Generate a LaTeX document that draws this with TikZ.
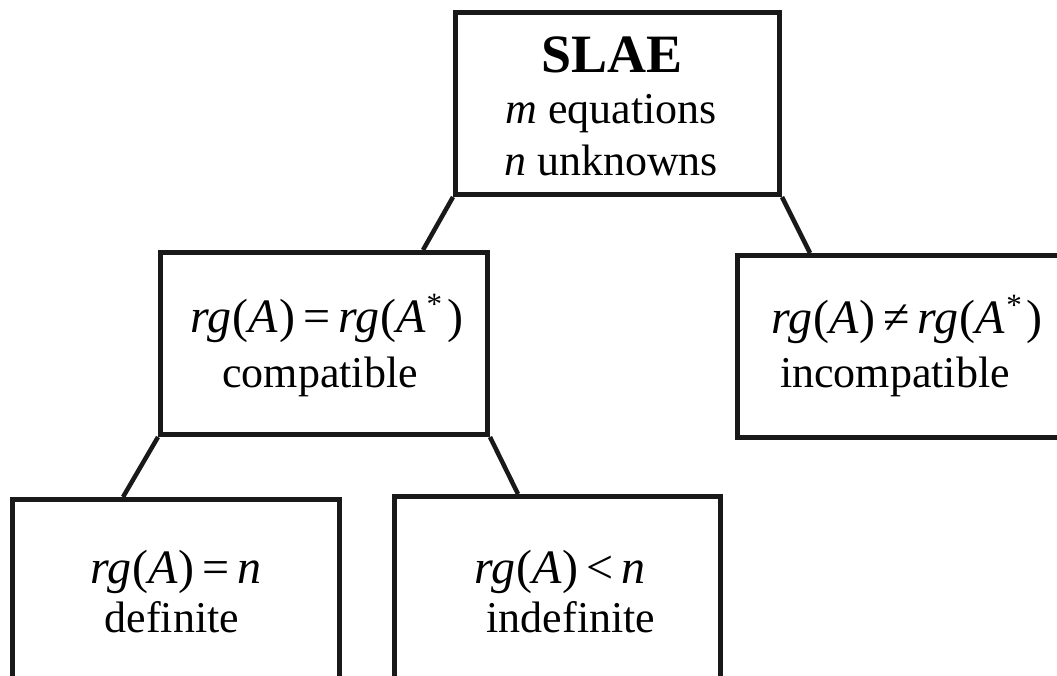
\documentclass[tikz,border=0pt]{standalone}
\usepackage{fontspec}
\setmainfont{Liberation Serif}
\tikzset{
  x=1pt, y=-1pt,
  box/.style={draw=black!90, line width=5pt, minimum width=327pt, minimum height=182pt, anchor=north west, inner sep=0pt},
  conn/.style={draw=black!90, line width=4.5pt},
  txt/.style={anchor=base, inner sep=0pt, font=\fontsize{44}{50}\selectfont},
  mth/.style={anchor=base, inner sep=0pt, font=\fontsize{48}{52}\selectfont},
  ttl/.style={anchor=base, inner sep=0pt, font=\fontsize{54}{60}\selectfont\bfseries}
}
\newcommand{\rgA}{\textit{rg}\kern1pt(\textit{A}\kern1pt)}
\newcommand{\rgAs}{\textit{rg}\kern1pt(\textit{A}\kern1pt\raisebox{18pt}{\fontsize{31}{31}\selectfont *}\kern5pt)}
\newcommand{\rel}[1]{\kern8pt#1\kern8pt}
\begin{document}
\begin{tikzpicture}
\useasboundingbox (0,0) rectangle (1057,675);
\clip (0,0) rectangle (1057,675);
\fill[white] (0,0) rectangle (1057,675);
% boxes
\node[box, minimum width=324pt] (slae) at (453,10) {};
\node[box] (comp) at (158,250) {};
\node[box] (incomp) at (735,253) {};
\node[box] (def) at (10,497) {};
\node[box, minimum width=326pt] (indef) at (392,494) {};
% connectors
\draw[conn] (slae.south west) -- ([xshift=-67pt]comp.north east);
\draw[conn] (slae.south east) -- ([xshift=75pt]incomp.north west);
\draw[conn] (comp.south west) -- ([xshift=113pt]def.north west);
\draw[conn] (comp.south east) -- ([xshift=126pt]indef.north west);
% texts
\node[ttl] (t1) at (612,72) {SLAE};
\node[txt] (t2) at (611,123) {\textit{m} equations};
\node[txt] (t3) at (611,175) {\textit{n} unknowns};
\node[mth] (c1) at (327,332) {\rgA\rel{=}\rgAs};
\node[txt] (c2) at (320,387) {compatible};
\node[mth] (i1) at (907,333) {\rgA\rel{≠}\rgAs};
\node[txt] (i2) at (895,387) {incompatible};
\node[mth] (d1) at (176,583) {\rgA\rel{=}\textit{n}};
\node[txt] (d2) at (172,632) {definite};
\node[mth] (n1) at (560,583) {\rgA\rel{<}\textit{n}};
\node[txt] (n2) at (571,632) {indefinite};
\end{tikzpicture}
\end{document}
